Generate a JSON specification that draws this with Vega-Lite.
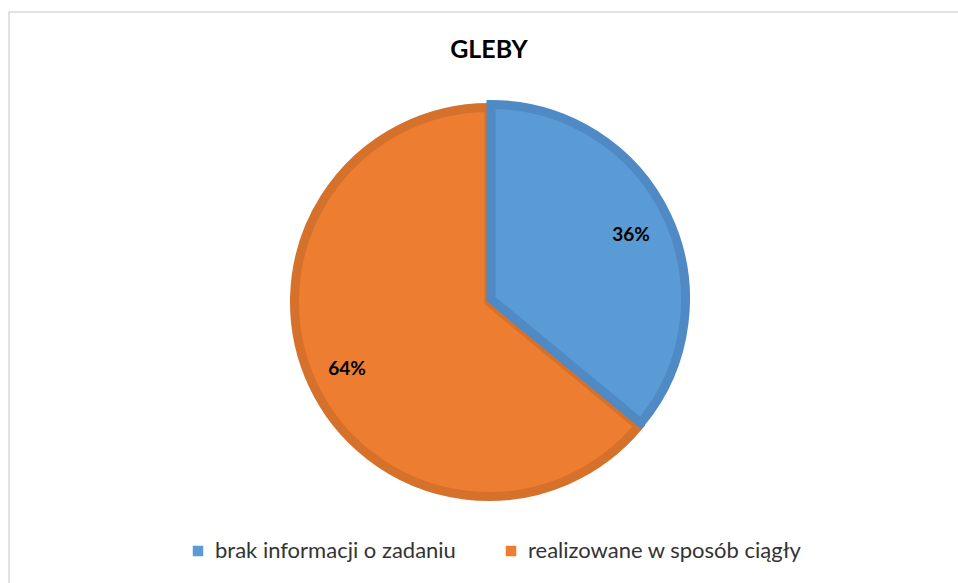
{
  "$schema": "https://vega.github.io/schema/vega-lite/v6.json",
  "width": 960,
  "height": 580,
  "autosize": {"type": "none"},
  "padding": {"left": 9, "top": 12, "right": 0, "bottom": 0},
  "background": "white",
  "view": {"stroke": "#D9D9D9", "strokeWidth": 1.5},
  "title": {
    "text": "GLEBY",
    "font": "Lato",
    "fontSize": 25,
    "fontWeight": "bold",
    "color": "#000000",
    "anchor": "middle",
    "frame": "group",
    "baseline": "alphabetic",
    "offset": -71
  },
  "data": {
    "values": [
      {"kategoria": "brak informacji o zadaniu", "procent": 36, "etykieta": "36%"},
      {"kategoria": "realizowane w sposób ciągły", "procent": 64, "etykieta": "64%"}
    ]
  },
  "config": {
    "legend": {
      "orient": "none",
      "legendX": 178,
      "legendY": 528,
      "direction": "horizontal",
      "title": null,
      "symbolType": "square",
      "symbolSize": 110,
      "symbolStrokeWidth": 0,
      "labelFont": "Lato",
      "labelFontSize": 22,
      "labelLimit": 500,
      "labelColor": "#333333",
      "labelOffset": 6,
      "columnPadding": 44
    }
  },
  "layer": [
    {
      "transform": [
        {"stack": "procent", "groupby": [], "sort": [{"field": "kategoria", "order": "ascending"}], "as": ["p0", "p1"]},
        {"filter": "datum.kategoria === 'realizowane w sposób ciągły'"}
      ],
      "mark": {"type": "arc", "outerRadius": 194.5, "stroke": "#D5712B", "strokeWidth": 9, "strokeJoin": "miter"},
      "encoding": {
        "theta": {"field": "p0", "type": "quantitative", "scale": {"domain": [0, 100]}},
        "theta2": {"field": "p1"},
        "color": {
          "field": "kategoria",
          "type": "nominal",
          "scale": {"domain": ["brak informacji o zadaniu", "realizowane w sposób ciągły"], "range": ["#5B9BD5", "#ED7D31"]},
          "legend": {"title": null}
        }
      }
    },
    {
      "transform": [
        {"stack": "procent", "groupby": [], "sort": [{"field": "kategoria", "order": "ascending"}], "as": ["p0", "p1"]},
        {"filter": "datum.kategoria === 'brak informacji o zadaniu'"}
      ],
      "mark": {"type": "arc", "outerRadius": 194.5, "stroke": "#4F8AC4", "strokeWidth": 9, "strokeJoin": "miter", "xOffset": 2, "yOffset": -3},
      "encoding": {
        "theta": {"field": "p0", "type": "quantitative", "scale": {"domain": [0, 100]}},
        "theta2": {"field": "p1"},
        "color": {"field": "kategoria", "type": "nominal"}
      }
    },
    {
      "mark": {"type": "text", "radius": 157, "font": "Lato", "fontSize": 19, "fontWeight": "bold", "color": "#000000"},
      "encoding": {
        "theta": {"field": "procent", "type": "quantitative", "stack": true},
        "detail": {"field": "kategoria"},
        "text": {"field": "etykieta"}
      }
    }
  ]
}
